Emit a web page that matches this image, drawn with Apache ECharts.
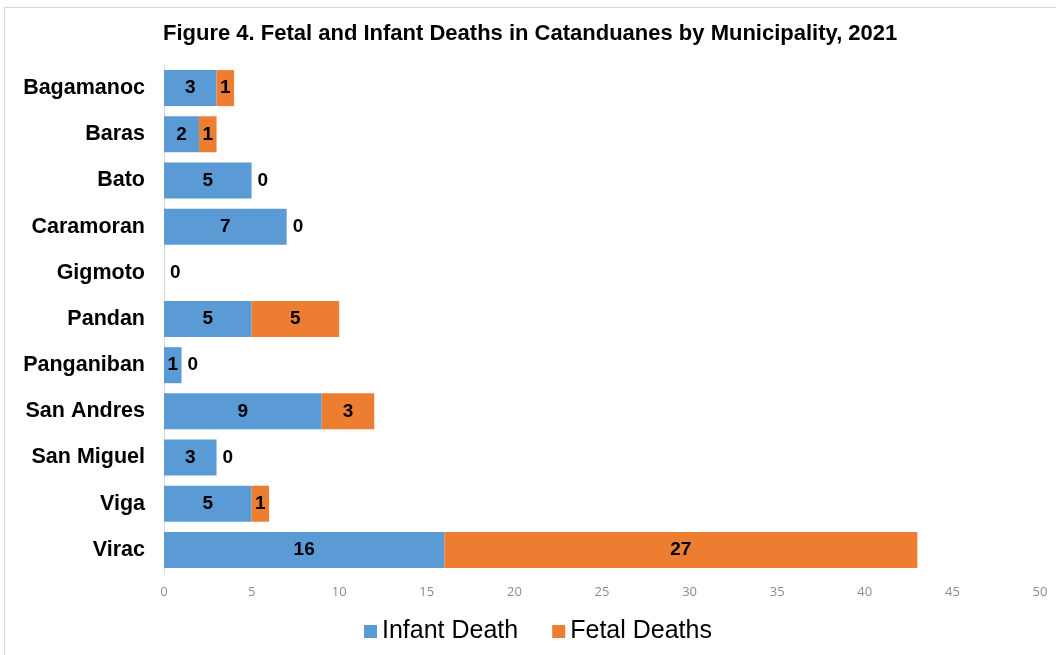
<!DOCTYPE html>
<html>
<head>
<meta charset="utf-8">
<script src="https://cdn.jsdelivr.net/npm/echarts@6/dist/echarts.min.js"></script>
<style>
  html, body { margin: 0; padding: 0; background: #fff; }
  #main { position: absolute; left: 0; top: 0; width: 1056px; height: 655px; }
  #frame { position: absolute; left: 4px; top: 7px; width: 1060px; height: 660px; border: 1px solid #d9d9d9; box-sizing: border-box; }
</style>
</head>
<body>
<div id="frame"></div>
<div id="main"></div>
<script>
const municipalities = ['Bagamanoc', 'Baras', 'Bato', 'Caramoran', 'Gigmoto', 'Pandan', 'Panganiban', 'San Andres', 'San Miguel', 'Viga', 'Virac'];
const infantDeaths = [3, 2, 5, 7, 0, 5, 1, 9, 3, 5, 16];
const fetalDeaths = [1, 1, 0, 0, 0, 5, 0, 3, 0, 1, 27];
const xTicks = [0, 5, 10, 15, 20, 25, 30, 35, 40, 45, 50];

const labelFont = { color: '#000', fontSize: 19, fontWeight: 'bold', fontFamily: 'Arial, "Liberation Sans", sans-serif' };

const chart = echarts.init(document.getElementById('main'));

chart.setOption({
  animation: false,
  title: {
    text: 'Figure 4. Fetal and Infant Deaths in Catanduanes by Municipality, 2021',
    left: 163,
    top: 23,
    padding: 0,
    textStyle: { color: '#000', fontSize: 22, fontWeight: 'bold', fontFamily: 'Arial, "Liberation Sans", sans-serif' }
  },
  legend: {
    data: ['Infant Death', 'Fetal Deaths'],
    left: 364,
    top: 619,
    padding: 0,
    icon: 'rect',
    itemWidth: 13,
    itemHeight: 13,
    itemGap: 34,
    textStyle: { color: '#000', fontSize: 25, fontFamily: 'Arial, "Liberation Sans", sans-serif' }
  },
  grid: { left: 164, right: 16, top: 65, bottom: 82, containLabel: false },
  xAxis: {
    type: 'value',
    min: 0,
    max: xTicks[xTicks.length - 1],
    interval: 5,
    axisLine: { show: false },
    axisTick: { show: false },
    splitLine: { show: false },
    axisLabel: { color: '#8c8c8c', fontSize: 13, margin: 13, fontFamily: '"Open Sans", sans-serif' }
  },
  yAxis: {
    type: 'category',
    data: municipalities,
    inverse: true,
    axisLine: { show: true, lineStyle: { color: '#d9d9d9', width: 1 } },
    axisTick: { show: false },
    axisLabel: { color: '#000', fontSize: 21.5, fontWeight: 'bold', margin: 19, fontFamily: 'Arial, "Liberation Sans", sans-serif' }
  },
  series: [
    {
      name: 'Infant Death',
      type: 'bar',
      stack: 'total',
      barCategoryGap: '22%',
      itemStyle: { color: '#5B9BD5' },
      label: Object.assign({ show: true, position: 'inside', formatter: p => p.value > 0 ? p.value : '' }, labelFont),
      data: infantDeaths
    },
    {
      name: 'Fetal Deaths',
      type: 'bar',
      stack: 'total',
      itemStyle: { color: '#ED7D31' },
      label: Object.assign({ show: true, position: 'inside' }, labelFont),
      data: fetalDeaths.map(v => v === 0 ? { value: v, label: { position: 'right', distance: 6 } } : v)
    }
  ]
});
</script>
</body>
</html>
